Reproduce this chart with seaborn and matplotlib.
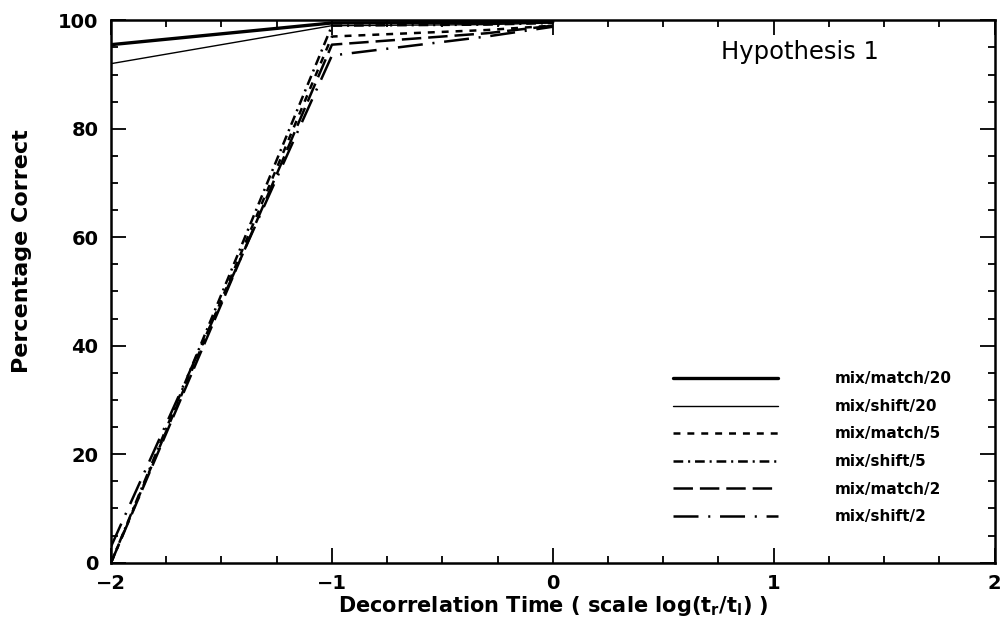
import matplotlib
matplotlib.use("Agg")
import matplotlib.pyplot as plt
import seaborn as sns
import pandas as pd
import numpy as np

sns.set_theme(style="ticks")
plt.rcParams['font.family'] = ['DejaVu Sans']
plt.rcParams['lines.scale_dashes'] = False
plt.rcParams['text.color'] = 'black'
plt.rcParams['axes.labelcolor'] = 'black'
plt.rcParams['xtick.color'] = 'black'
plt.rcParams['ytick.color'] = 'black'

# Data
x_vals = [-2.0, -1.0, -0.3, 0.0]
labels = ["mix/match/20", "mix/shift/20", "mix/match/5", "mix/shift/5", "mix/match/2", "mix/shift/2"]
match20 = [95.5, 99.5, 99.6, 99.7]
shift20 = [92.0, 99.0, 99.2, 99.5]
match5 = [0.0, 97.0, 98.2, 99.0]
shift5 = [0.0, 99.0, 99.2, 99.5]
match2 = [0.0, 95.5, 97.6, 99.0]
shift2 = [3.0, 93.5, 97.0, 98.8]
x_ticks = [-2, -1, 0, 1, 2]
y_ticks = [0, 20, 40, 60, 80, 100]

series = [match20, shift20, match5, shift5, match2, shift2]
styles = ["-", "-", (0, (5, 5)), (0, (7, 3.5, 1.5, 3.5)), (0, (14, 5)), (0, (18, 7, 1.5, 7))]
widths = [2.4, 1.0, 1.8, 1.8, 1.8, 1.8]

df = pd.concat([pd.DataFrame({"x": x_vals, "y": s, "series": lab}) for s, lab in zip(series, labels)])

fig = plt.figure(figsize=(10.04, 6.33), dpi=100)
ax = fig.add_axes([0.1106, 0.111, 0.880, 0.857])

for lab, ls, lw in zip(labels, styles, widths):
    sub = df[df["series"] == lab]
    sns.lineplot(data=sub, x="x", y="y", ax=ax, color="black", linestyle=ls,
                 linewidth=lw, label=lab, estimator=None, sort=False)

ax.set_xlim(-2, 2)
ax.set_ylim(0, 100)
ax.set_xticks(x_ticks)
ax.set_xticklabels([f"{t}".replace("-", "\u2212") for t in x_ticks])
ax.set_yticks(y_ticks)
ax.set_xticks(np.arange(-2, 2.01, 0.25), minor=True)
ax.set_yticks(np.arange(0, 100.1, 5), minor=True)
ax.tick_params(which="both", direction="in", top=True, right=True, width=1.3, color="black")
ax.tick_params(which="major", length=11, labelsize=14)
ax.tick_params(axis="x", which="major", pad=8)
ax.tick_params(axis="y", which="major", pad=9)
ax.tick_params(which="minor", length=5)
for lbl in ax.get_xticklabels() + ax.get_yticklabels():
    lbl.set_fontweight("bold")
for sp in ax.spines.values():
    sp.set_linewidth(1.8)
    sp.set_color("black")

ax.set_xlabel(r"Decorrelation Time ( scale log(t$_\mathregular{r}$/t$_\mathregular{l}$) )",
              fontsize=15, fontweight="bold", labelpad=1)
ax.set_ylabel("Percentage Correct", fontsize=16, fontweight="bold")
ax.yaxis.set_label_coords(-0.09, 0.575)

ax.text(0.69, 0.941, "Hypothesis 1", transform=ax.transAxes, fontsize=17.5,
        ha="left", va="center", color="black")

leg = ax.legend(loc="upper left", bbox_to_anchor=(0.62, 0.378), frameon=False,
                handlelength=6.9, handletextpad=3.7, labelspacing=0.82,
                prop={"weight": "bold", "size": 11})

ax.grid(False)
fig.savefig("out.png", dpi=100)
